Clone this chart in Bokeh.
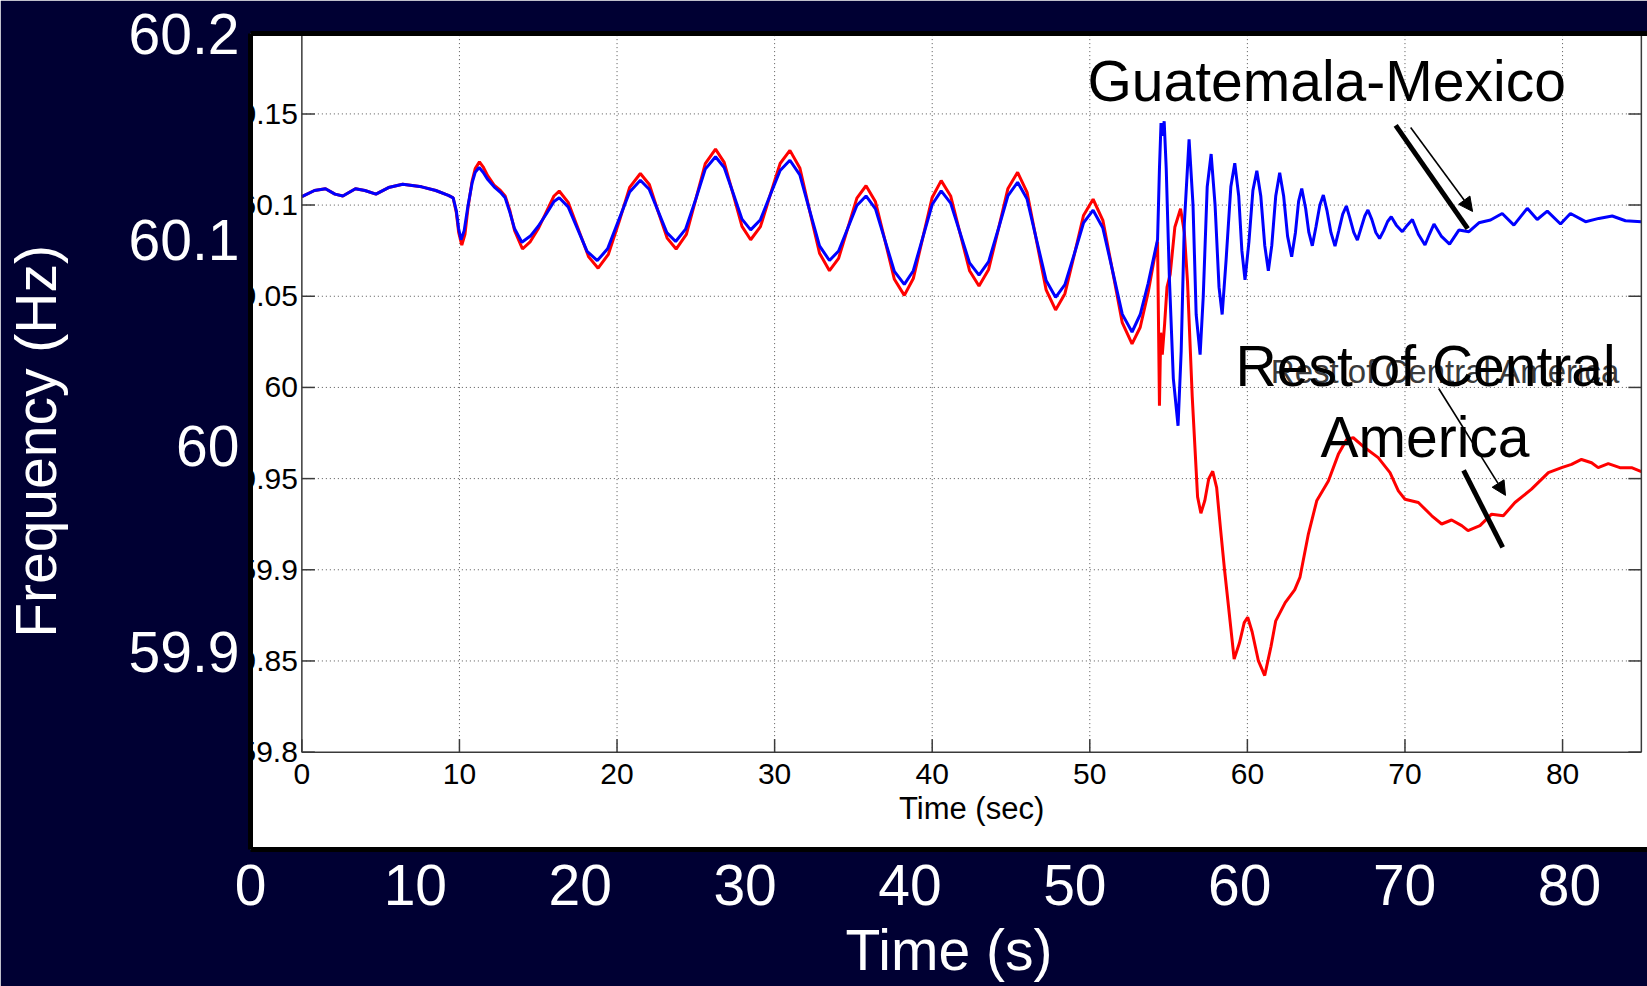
from math import pi
from bokeh.plotting import figure
from bokeh.models import Range1d, LinearAxis, FixedTicker, Arrow, NormalHead
from bokeh.core.properties import value
from bokeh.embed import file_html
from bokeh.resources import INLINE

# ---------------- data ----------------
blue_time = [0, 0.8, 1.5, 2.1, 2.6, 3.4, 4.0, 4.7, 5.5, 6.4, 7.6, 8.5, 9.3, 9.6,
             9.8, 9.95, 10.1, 10.3, 10.55, 10.8, 11.0, 11.25, 11.5, 11.8, 12.2, 12.6, 12.9, 13.2, 13.5, 13.96,
             14.5, 15.0, 15.5, 16.0, 16.33, 16.9, 17.5, 18.1, 18.75, 19.4, 20.1, 20.8, 21.48,
             22.04, 22.6, 23.16, 23.72, 24.35, 25.0, 25.6, 26.25, 26.8, 27.37, 27.93, 28.48,
             29.1, 29.72, 30.35, 30.97, 31.6, 32.22, 32.85, 33.48, 34.06, 34.64, 35.22, 35.8,
             36.4, 37.0, 37.6, 38.23, 38.8, 39.4, 40.0, 40.57, 41.17, 41.77, 42.37, 42.97,
             43.58, 44.2, 44.8, 45.42, 46.02, 46.62, 47.23, 47.83, 48.42, 49.02, 49.6, 50.21,
             50.83, 51.45, 52.06, 52.68, 53.2, 53.7, 54.1, 54.3, 54.42, 54.52, 54.62, 54.72, 54.85,
             55.05, 55.3, 55.6, 55.8, 56.0, 56.3, 56.55, 56.75, 57.0, 57.2, 57.45, 57.7, 57.95,
             58.2, 58.4, 58.65, 58.95, 59.2, 59.45, 59.65, 59.85, 60.1, 60.35, 60.6, 60.85,
             61.1, 61.33, 61.55, 61.8, 62.05, 62.3, 62.55, 62.81, 63.05, 63.25, 63.45, 63.7,
             63.9, 64.12, 64.35, 64.6, 64.82, 65.05, 65.3, 65.56, 65.8, 66.05, 66.28, 66.5,
             66.75, 66.98, 67.2, 67.45, 67.65, 67.9, 68.15, 68.39, 68.65, 68.9, 69.13, 69.45,
             69.83, 70.15, 70.47, 70.85, 71.27, 71.55, 71.84, 72.3, 72.83, 73.42, 74.06, 74.69,
             75.43, 76.17, 76.91, 77.76, 78.39, 79.03, 79.87, 80.5, 81.46, 82.3, 83.15, 83.99, 85.0]
blue_freq = [60.1046, 60.108, 60.109, 60.106, 60.105, 60.109, 60.108, 60.106, 60.1096, 60.1114, 60.110, 60.108, 60.1053, 60.104,
             60.097, 60.087, 60.081, 60.086, 60.100, 60.112, 60.118, 60.1206, 60.118, 60.114, 60.110, 60.107, 60.104, 60.096, 60.087, 60.0796,
             60.083, 60.0884, 60.095, 60.102, 60.104, 60.099, 60.0868, 60.0746, 60.0696, 60.076, 60.0916, 60.1072, 60.1136,
             60.1087, 60.0968, 60.0849, 60.080, 60.0868, 60.1033, 60.1197, 60.1265, 60.1206, 60.1065, 60.0923, 60.0864,
             60.092, 60.1055, 60.119, 60.1246, 60.1166, 60.0971, 60.0776, 60.0696, 60.0748, 60.0873, 60.0998, 60.105,
             60.0979, 60.0808, 60.0636, 60.0565, 60.064, 60.0822, 60.1003, 60.1078, 60.1011, 60.0847, 60.0683, 60.0616,
             60.069, 60.087, 60.105, 60.1125, 60.1033, 60.081, 60.0586, 60.0494, 60.0564, 60.0733, 60.0902, 60.0972,
             60.0874, 60.0638, 60.0402, 60.0304, 60.040, 60.057, 60.073, 60.081, 60.12, 60.145, 60.138, 60.146, 60.12,
             60.06, 60.005, 59.979, 60.02, 60.09, 60.136, 60.1, 60.04, 60.018, 60.05, 60.11, 60.128, 60.1,
             60.055, 60.040, 60.07, 60.11, 60.123, 60.105, 60.075, 60.059, 60.08, 60.108, 60.1188, 60.105,
             60.078, 60.064, 60.078, 60.105, 60.1177, 60.105, 60.083, 60.0717, 60.085, 60.102, 60.1091, 60.098,
             60.085, 60.0777, 60.088, 60.1, 60.1055, 60.097, 60.085, 60.0775, 60.086, 60.095, 60.0995, 60.093,
             60.085, 60.0808, 60.087, 60.094, 60.0973, 60.092, 60.085, 60.0817, 60.086, 60.091, 60.0936, 60.089,
             60.0854, 60.089, 60.0921, 60.084, 60.0781, 60.084, 60.0896, 60.083, 60.0786, 60.0863, 60.0854, 60.0903,
             60.0918, 60.0954, 60.089, 60.0982, 60.0921, 60.0967, 60.0896, 60.0954, 60.0909, 60.0927, 60.094, 60.0914, 60.0909]

red_time = [0, 0.8, 1.5, 2.1, 2.6, 3.4, 4.0, 4.7, 5.5, 6.4, 7.6, 8.5, 9.3, 9.6,
            9.8, 9.95, 10.15, 10.35, 10.55, 10.8, 11.0, 11.27, 11.5, 11.8, 12.2, 12.6, 12.9, 13.2, 13.5, 14.0,
            14.5, 15.0, 15.5, 16.0, 16.33, 16.9, 17.55, 18.2, 18.8, 19.45, 20.15, 20.8, 21.48,
            22.05, 22.6, 23.18, 23.75, 24.4, 25.0, 25.6, 26.25, 26.8, 27.37, 27.93, 28.48,
            29.1, 29.72, 30.35, 30.97, 31.6, 32.22, 32.85, 33.48, 34.06, 34.64, 35.22, 35.8,
            36.4, 37.0, 37.6, 38.23, 38.8, 39.4, 40.0, 40.57, 41.17, 41.77, 42.37, 42.97,
            43.58, 44.2, 44.8, 45.42, 46.02, 46.62, 47.23, 47.83, 48.42, 49.02, 49.6, 50.21,
            50.83, 51.45, 52.06, 52.68, 53.2, 53.7, 54.1, 54.3, 54.42, 54.5, 54.6, 54.75, 54.9,
            55.1, 55.4, 55.76, 56.0, 56.2, 56.5, 56.84, 57.05, 57.3, 57.55, 57.8, 58.05, 58.3,
            58.55, 58.8, 59.16, 59.5, 59.8, 60.02, 60.3, 60.7, 61.1, 61.5, 61.8, 62.4, 63.0,
            63.34, 63.87, 64.4, 65.14, 65.77, 66.3, 66.72, 67.46, 68.3, 69.05, 69.58, 70.0,
            70.85, 71.7, 72.33, 72.96, 73.6, 74.0, 74.76, 75.5, 76.24, 76.98, 78.03, 79.1,
            79.94, 80.57, 81.2, 81.84, 82.26, 82.9, 83.64, 84.38, 85.0]
red_freq = [60.1046, 60.108, 60.109, 60.106, 60.105, 60.109, 60.108, 60.106, 60.1096, 60.1114, 60.110, 60.108, 60.1053, 60.104,
            60.096, 60.085, 60.078, 60.084, 60.099, 60.113, 60.120, 60.1237, 60.121, 60.116, 60.111, 60.108, 60.105, 60.097, 60.086, 60.0759,
            60.080, 60.087, 60.096, 60.105, 60.1077, 60.1015, 60.0866, 60.0716, 60.0654, 60.073, 60.0914, 60.1097, 60.1173,
            60.1113, 60.0966, 60.0819, 60.0759, 60.0839, 60.1033, 60.1227, 60.1307, 60.1234, 60.1059, 60.0883, 60.081,
            60.0882, 60.1055, 60.1228, 60.130, 60.1204, 60.097, 60.0736, 60.064, 60.0708, 60.0873, 60.1038, 60.1106,
            60.1018, 60.0806, 60.0593, 60.0505, 60.0597, 60.082, 60.1042, 60.1134, 60.105, 60.0845, 60.064, 60.0556,
            60.0647, 60.0868, 60.1089, 60.118, 60.107, 60.0803, 60.0535, 60.0425, 60.0514, 60.0729, 60.0943, 60.1032,
            60.0916, 60.0636, 60.0355, 60.0239, 60.033, 60.052, 60.071, 60.080, 59.99, 60.03, 60.018, 60.035, 60.055,
            60.062, 60.088, 60.098, 60.085, 60.058, 59.995, 59.94, 59.931, 59.938, 59.95, 59.954, 59.945, 59.922,
            59.9, 59.88, 59.851, 59.86, 59.871, 59.874, 59.866, 59.85, 59.842, 59.858, 59.872, 59.882, 59.889,
            59.896, 59.9196, 59.9378, 59.9487, 59.9633, 59.9715, 59.9724, 59.9669, 59.9615, 59.9533, 59.9433, 59.9387,
            59.9369, 59.9296, 59.9251, 59.9273, 59.9242, 59.9215, 59.9242, 59.9305, 59.9296, 59.9369, 59.9442, 59.9533,
            59.956, 59.9578, 59.9605, 59.9587, 59.956, 59.9582, 59.956, 59.956, 59.9538]

# inner (MATLAB) axes ticks
inner_x_ticks = [0, 10, 20, 30, 40, 50, 60, 70, 80]
inner_x_labels = ["0", "10", "20", "30", "40", "50", "60", "70", "80"]
inner_y_ticks = [59.8, 59.85, 59.9, 59.95, 60.0, 60.05, 60.1, 60.15, 60.2]
inner_y_labels = ["59.8", "59.85", "59.9", "59.95", "60", "60.05", "60.1", "60.15", "60.2"]
inner_x_limits = [0, 85]
inner_y_limits = [59.8, 60.2]

# outer (slide) axes ticks
slide_x_ticks = [0, 10, 20, 30, 40, 50, 60, 70, 80]
slide_y_ticks = [59.9, 60.0, 60.1, 60.2]
slide_y_labels = ["59.9", "60", "60.1", "60.2"]

# annotations
ann_texts = ["Guatemala-Mexico", "Rest of Central", "America"]
ann_x = [65.03, 71.31, 71.27]
ann_y = [60.1683, 60.0115, 59.9728]
small_text = ["Rest of Central America"]
small_x = [72.6]
small_y = [60.0089]
thick_x0 = [69.41, 73.72]
thick_y0 = [60.1437, 59.9545]
thick_x1 = [73.98, 76.20]
thick_y1 = [60.0871, 59.9123]
arrow_x0 = [70.36, 72.14]
arrow_y0 = [60.1426, 59.9994]
arrow_x1 = [74.29, 76.38]
arrow_y1 = [60.0965, 59.9408]

FONT = "Liberation Sans"
NAVY = "#000033"

p = figure(width=1647, height=986,
           x_range=Range1d(-3.259, 85.39), y_range=Range1d(59.7466, 60.1941),
           output_backend="svg", toolbar_location=None,
           x_axis_location=None, y_axis_location=None,
           min_border_left=249, min_border_right=0, min_border_top=33, min_border_bottom=137,
           background_fill_color="white", border_fill_color=NAVY,
           outline_line_color=None)
for g in p.grid:
    g.visible = False

p.extra_x_ranges = {"slide_x": Range1d(0, 84.73)}
p.extra_y_ranges = {"slide_y": Range1d(59.8039, 60.2)}

# ---- slide axes (big white) ----
ax_left = LinearAxis(y_range_name="slide_y", ticker=FixedTicker(ticks=slide_y_ticks),
                     major_label_overrides={t: l for t, l in zip(slide_y_ticks, slide_y_labels)},
                     axis_label="Frequency (Hz)")
ax_below = LinearAxis(x_range_name="slide_x", ticker=FixedTicker(ticks=slide_x_ticks),
                      axis_label="Time (s)")
for ax in (ax_left, ax_below):
    ax.axis_line_color = "black"
    ax.axis_line_width = 5
    ax.major_tick_line_color = None
    ax.minor_tick_line_color = None
    ax.major_tick_in = 0
    ax.major_tick_out = 0
    ax.major_label_text_color = "white"
    ax.major_label_text_font = FONT
    ax.major_label_text_font_size = "57px"
    ax.axis_label_text_color = "white"
    ax.axis_label_text_font = FONT
    ax.axis_label_text_font_size = "57px"
    ax.axis_label_text_font_style = "normal"
ax_left.major_label_standoff = 11
ax_left.axis_label_standoff = 58
ax_below.major_label_standoff = 15
ax_below.axis_label_standoff = 10
p.add_layout(ax_left, "left")
p.add_layout(ax_below, "below")

ax_top = LinearAxis(x_range_name="slide_x", ticker=FixedTicker(ticks=[]),
                    axis_line_color="black", axis_line_width=5,
                    major_tick_line_color=None, minor_tick_line_color=None,
                    major_label_text_font_size="0px")
p.add_layout(ax_top, "above")

# ---- inner MATLAB axes: grid ----
GRID = "#555555"
vx = inner_x_ticks[1:]
p.segment(x0=vx, y0=[inner_y_limits[0]] * len(vx), x1=vx, y1=[inner_y_limits[1]] * len(vx),
          line_color=GRID, line_width=1, line_dash="1 3")
hy = inner_y_ticks[1:-1]
p.segment(x0=[inner_x_limits[0]] * len(hy), y0=hy, x1=[inner_x_limits[1]] * len(hy), y1=hy,
          line_color=GRID, line_width=1, line_dash="1 3")

# ---- data lines ----
p.line(red_time, red_freq, line_color="#ff0000", line_width=3)
p.line(blue_time, blue_freq, line_color="#0000ff", line_width=3)

# ---- inner axes box and ticks ----
AX = "#3a3a3a"
p.segment(x0=[inner_x_limits[0], inner_x_limits[0], inner_x_limits[1]],
          y0=[inner_y_limits[0], inner_y_limits[0], inner_y_limits[0]],
          x1=[inner_x_limits[0], inner_x_limits[1], inner_x_limits[1]],
          y1=[inner_y_limits[1], inner_y_limits[0], inner_y_limits[1]],
          line_color=AX, line_width=1.5)
p.ray(x=[inner_x_limits[0]] * len(inner_y_ticks), y=inner_y_ticks, length=13, angle=0,
      length_units="screen", line_color=AX, line_width=1.5)
p.ray(x=[inner_x_limits[1]] * len(inner_y_ticks), y=inner_y_ticks, length=13, angle=pi,
      length_units="screen", line_color=AX, line_width=1.5)
p.ray(x=inner_x_ticks, y=[inner_y_limits[0]] * len(inner_x_ticks), length=13, angle=pi / 2,
      length_units="screen", line_color=AX, line_width=1.5)
p.ray(x=inner_x_ticks, y=[inner_y_limits[1]] * len(inner_x_ticks), length=13, angle=-pi / 2,
      length_units="screen", line_color=AX, line_width=1.5)

# inner tick labels (cropped by the panel edge, as in the screenshot)
p.text(x=[inner_x_limits[0]] * len(inner_y_ticks), y=inner_y_ticks, text=inner_y_labels,
       text_font=value(FONT), text_font_size="30px", text_color="black",
       text_align="right", text_baseline="middle", x_offset=-4)
p.text(x=inner_x_ticks, y=[inner_y_limits[0]] * len(inner_x_ticks), text=inner_x_labels,
       text_font=value(FONT), text_font_size="30px", text_color="black",
       text_align="center", text_baseline="middle", y_offset=22)
p.text(x=[(inner_x_limits[0] + inner_x_limits[1]) / 2], y=[inner_y_limits[0]], text=["Time (sec)"],
       text_font=value(FONT), text_font_size="31px", text_color="black",
       text_align="center", text_baseline="middle", y_offset=56)

# ---- annotations ----
p.text(x=small_x, y=small_y, text=small_text, text_font=value(FONT), text_font_size="33px",
       text_color="#3a3a3a", text_align="center", text_baseline="middle")
p.text(x=ann_x, y=ann_y, text=ann_texts, text_font=value(FONT), text_font_size="57px",
       text_color="black", text_align="center", text_baseline="middle")
p.segment(x0=thick_x0, y0=thick_y0, x1=thick_x1, y1=thick_y1, line_color="black", line_width=5)
for xs, ys, xe, ye in zip(arrow_x0, arrow_y0, arrow_x1, arrow_y1):
    p.add_layout(Arrow(end=NormalHead(size=14, fill_color="black", line_color="black"),
                       x_start=xs, y_start=ys, x_end=xe, y_end=ye,
                       line_color="black", line_width=1.6))

open("out.html", "w").write(file_html(p, INLINE))
